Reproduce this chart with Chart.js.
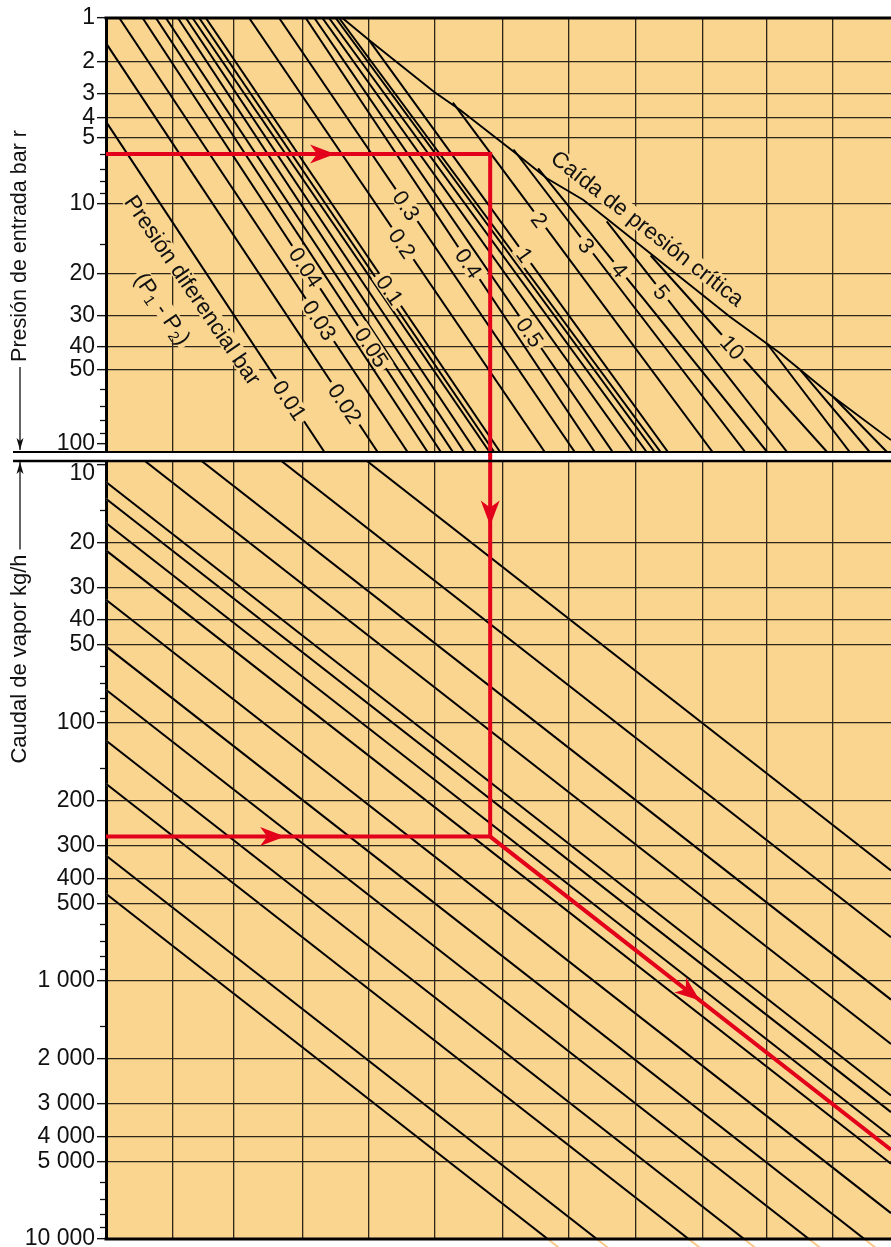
<!DOCTYPE html>
<html lang="es">
<head>
<meta charset="utf-8">
<title>Caudal de vapor</title>
<script src="https://cdn.jsdelivr.net/npm/chart.js@4.4.1/dist/chart.umd.min.js"></script>
<style>
  html, body { margin: 0; padding: 0; background: #fff; }
  .box { position: absolute; left: 0; width: 891px; }
  #top-box { top: 0; height: 456px; }
  #bot-box { top: 455px; height: 792px; }
  canvas { display: block; }
</style>
</head>
<body>
<div class="box" id="bot-box"><canvas id="bot-chart" width="891" height="792"></canvas></div>
<div class="box" id="top-box"><canvas id="top-chart" width="891" height="456"></canvas></div>
<script>
// shared x grid (arbitrary units, no labels on this axis)
const xGrid = [1, 1.92, 2.95, 3.94, 4.94, 5.95, 6.95, 7.96, 8.96, 9.92, 10.92];
const xMax = 11.79;

// top panel: inlet pressure, bar r
const presTicks = [1, 2, 3, 4, 5, 10, 20, 30, 40, 50, 100];
const presGrid = [2, 3, 4, 5, 10, 20, 30, 40, 50];
const presMinor = [6, 7, 8, 9, 15, 60, 70, 80, 90];
const presMin = 1;
const presMax = 107.6;

// differential pressure lines (start / end, x units and bar r)
const dpStartX = [0, 0, 0.20, 0.55, 0.75, 0.90, 1.08, 1.20, 1.30, 1.40, 1.50, 2.15, 2.60, 3.00, 3.13, 3.25, 3.35, 3.45, 3.50, 3.95, 5.21, 6.12, 6.49, 7.52, 8.18, 9.93, 10.42, 10.92];
const dpStartP = [4.19, 1.52, 1, 1, 1, 1, 1, 1, 1, 1, 1, 1, 1, 1, 1, 1, 1, 1, 1, 1.45, 3.36, 5.71, 6.98, 12.0, 16.8, 39.1, 49.8, 64.3];
const dpEndX = [3.28, 4.08, 4.53, 4.83, 5.03, 5.21, 5.38, 5.56, 5.76, 5.83, 5.92, 6.59, 7.04, 7.34, 7.61, 7.91, 8.12, 8.24, 8.33, 8.44, 9.11, 9.60, 9.93, 10.23, 10.83, 11.17, 11.47, 11.73];
const dpEndP = dpEndX.map(() => presMax);

// labels sitting on some of the lines
const dpLabels = ['0.01', '0.02', '0.03', '0.04', '0.05', '0.1', '0.2', '0.3', '0.4', '0.5', '1', '2', '3', '4', '5', '10'];
const dpLabelLine = [0, 1, 2, 3, 4, 10, 11, 12, 13, 14, 19, 20, 21, 22, 23, 24];
const dpLabelP = [66.3, 68.4, 31.2, 18.8, 40.3, 23.4, 14.9, 10.2, 18.1, 35, 16.7, 11.8, 15.2, 19.3, 23.9, 40.3];

// critical pressure drop curve
const critX = [3.55, 3.95, 4.93, 5.32, 6.12, 6.62, 7.17, 9.37, 10.12, 10.92, 11.79];
const critP = [1, 1.45, 2.95, 3.66, 5.84, 7.74, 9.68, 30.3, 42.7, 64.3, 96.3];

// bottom panel: steam flow kg/h
const flowTicks = [10, 20, 30, 40, 50, 100, 200, 300, 400, 500, 1000, 2000, 3000, 4000, 5000, 10000];
const flowGrid = [20, 30, 40, 50, 100, 200, 300, 400, 500, 1000, 2000, 3000, 4000, 5000];
const flowMinor = [15, 60, 70, 80, 90, 150, 600, 700, 800, 900, 1500, 6000, 7000, 8000, 9000];
const flowMin = 9.68;
const flowMax = 10000;

// valve lines: flow at left edge (x=0) and right edge (x=xMax)
const kvFlowLeft = [1.57, 2.85, 4.97, 7.38, 11.68, 13.55, 16.84, 21.49, 33.37, 50.6, 74.5, 117.1, 172.3, 326.8, 460];
const kvFlowRight = [373.5, 678, 1182, 1756, 2779, 3224, 4006, 5113, 7939, 12038, 17724, 27859, 40990, 77746, 109434];

// worked example (red path)
const exPres = 6;
const exX = 5.77;
const exFlow = 276;
const exFlowEnd = 4508;
const arrowTopX = 3.44;
const arrowDownFlow = 17.2;
const arrowFlowX = 2.69;
const arrowDiagX = 8.92;

// ---- styles ----
const panelFill = '#F9D590';
const gridColor = '#2e2619';
const red = '#E2001A';
const fontFam = '"Liberation Sans", Arial, sans-serif';
const tickFont = { family: '"Liberation Sans Narrow", "Liberation Sans", Arial, sans-serif', size: 23 };

const abs = p => p + 1;   // gauge -> absolute bar

function seg(points, color, width, clip) {
    return {
        data: points,
        showLine: true,
        borderColor: color,
        borderWidth: width,
        pointRadius: 0,
        tension: 0,
        fill: false,
        clip: clip || 0
    };
}

function fmtThousands(v) {
    return String(Math.round(v)).replace(/\B(?=(\d{3})+(?!\d))/g, ' ');
}

function xScale() {
    return {
        type: 'linear',
        min: 0,
        max: xMax,
        ticks: { display: false },
        grid: { color: gridColor, lineWidth: 1.3, drawTicks: false },
        border: { display: false },
        afterBuildTicks: s => { s.ticks = xGrid.map(v => ({ value: v })); },
        afterFit: s => { s.height = 0; s.paddingLeft = 0; s.paddingRight = 0; }
    };
}

function drawArrow(ctx, x, y, angle) {
    ctx.save();
    ctx.translate(x, y);
    ctx.rotate(angle);
    ctx.fillStyle = red;
    ctx.beginPath();
    ctx.moveTo(0, 0);
    ctx.lineTo(-25, -9.5);
    ctx.lineTo(-18, 0);
    ctx.lineTo(-25, 9.5);
    ctx.closePath();
    ctx.fill();
    ctx.restore();
}

// text made of runs: [text, size, baseline shift]
function maskedRuns(ctx, runs, x, y, angle, pad) {
    ctx.save();
    ctx.translate(x, y);
    ctx.rotate(angle);
    let w = 0;
    const widths = runs.map(r => {
        ctx.font = r[1] + 'px ' + fontFam;
        const m = ctx.measureText(r[0]).width;
        w += m;
        return m;
    });
    const size = runs[0][1];
    ctx.fillStyle = panelFill;
    ctx.fillRect(-w / 2 - pad, -size * 0.42, w + pad * 2, size * 0.84);
    ctx.fillStyle = '#111';
    ctx.textAlign = 'left';
    ctx.textBaseline = 'alphabetic';
    let cx = -w / 2;
    runs.forEach((r, i) => {
        ctx.font = r[1] + 'px ' + fontFam;
        ctx.fillText(r[0], cx, size * 0.36 + r[2]);
        cx += widths[i];
    });
    ctx.restore();
}

function maskedText(ctx, text, x, y, angle, size, pad) {
    maskedRuns(ctx, [[text, size, 0]], x, y, angle, pad);
}

function axisTitle(ctx, text, cx, cy, arrowEnd, size) {
    ctx.save();
    ctx.font = size + 'px ' + fontFam;
    const w = ctx.measureText(text).width;
    ctx.translate(cx, cy);
    ctx.rotate(-Math.PI / 2);
    ctx.fillStyle = '#111';
    ctx.textAlign = 'center';
    ctx.textBaseline = 'middle';
    ctx.fillText(text, 0, 0);
    ctx.restore();
    // line + arrow towards the panel edge
    const down = arrowEnd > cy;
    const start = down ? cy + w / 2 + 5 : cy - w / 2 - 5;
    ctx.save();
    ctx.strokeStyle = '#111';
    ctx.lineWidth = 1.3;
    ctx.beginPath();
    ctx.moveTo(cx, start);
    ctx.lineTo(cx, arrowEnd);
    ctx.stroke();
    ctx.fillStyle = '#111';
    ctx.beginPath();
    const d = down ? -1 : 1;
    ctx.moveTo(cx, arrowEnd);
    ctx.lineTo(cx - 3.5, arrowEnd + d * 12);
    ctx.lineTo(cx, arrowEnd + d * 9);
    ctx.lineTo(cx + 3.5, arrowEnd + d * 12);
    ctx.closePath();
    ctx.fill();
    ctx.restore();
}

function minorTicks(ctx, scale, values, left) {
    ctx.save();
    ctx.strokeStyle = '#111';
    ctx.lineWidth = 1.3;
    values.forEach(v => {
        const y = Math.round(scale.getPixelForValue(v)) + 0.5;
        ctx.beginPath();
        ctx.moveTo(left - 5, y);
        ctx.lineTo(left, y);
        ctx.stroke();
    });
    ctx.restore();
}

// ---------------- top panel ----------------
const topSets = [];
topSets.push(seg([
    { x: 0, y: abs(exPres) }, { x: exX, y: abs(exPres) }, { x: exX, y: abs(presMax) * 1.15 }
], red, 4, { left: 0, top: 0, right: 0, bottom: 10 }));
const topRedCount = topSets.length;
topSets.push(seg(critX.map((x, i) => ({ x, y: abs(critP[i]) })), '#000', 1.9));
dpStartX.forEach((x, i) => {
    topSets.push(seg([{ x, y: abs(dpStartP[i]) }, { x: dpEndX[i], y: abs(dpEndP[i]) }], '#000', 2));
});

const topDecor = {
    id: 'topDecor',
    beforeDraw(chart) {
        const { ctx, chartArea: a } = chart;
        ctx.save();
        ctx.fillStyle = panelFill;
        ctx.fillRect(a.left, a.top, a.right - a.left, a.bottom - a.top);
        ctx.restore();
    },
    afterDatasetDraw(chart, args) {
        if (args.index !== topRedCount) return;
        const { ctx, chartArea: a } = chart;
        const xs = chart.scales.x, ys = chart.scales.y;
        ctx.save();
        ctx.beginPath();
        ctx.rect(a.left, a.top, a.right - a.left, a.bottom - a.top);
        ctx.clip();
        dpLabels.forEach((t, k) => {
            const i = dpLabelLine[k];
            const x0 = xs.getPixelForValue(dpStartX[i]), y0 = ys.getPixelForValue(abs(dpStartP[i]));
            const x1 = xs.getPixelForValue(dpEndX[i]), y1 = ys.getPixelForValue(abs(dpEndP[i]));
            const y = ys.getPixelForValue(abs(dpLabelP[k]));
            const x = x0 + (y - y0) / (y1 - y0) * (x1 - x0);
            maskedText(ctx, t, x, y, Math.atan2(y1 - y0, x1 - x0), 22, 4);
        });
        const ang = 55.7 * Math.PI / 180;
        maskedText(ctx, 'Presión diferencial bar', xs.getPixelForValue(1.31), ys.getPixelForValue(abs(23.4)), ang, 22.5, 3);
        maskedRuns(ctx, [['(P', 22.5, 0], ['1', 15, 4], [' - P', 22.5, 0], ['2', 15, 4], [')', 22.5, 0]],
            xs.getPixelForValue(0.86), ys.getPixelForValue(abs(27.9)), ang, 3);
        maskedText(ctx, 'Caída de presión crítica', xs.getPixelForValue(8.14), ys.getPixelForValue(abs(12.8)), 38 * Math.PI / 180, 22.5, 4);
        ctx.restore();
    },
    afterDraw(chart) {
        const { ctx, chartArea: a } = chart;
        const xs = chart.scales.x, ys = chart.scales.y;
        ctx.save();
        ctx.strokeStyle = '#000';
        ctx.lineWidth = 3;
        ctx.beginPath();
        ctx.moveTo(a.left - 1.5, a.top);
        ctx.lineTo(a.right, a.top);
        ctx.stroke();
        ctx.lineWidth = 2;
        ctx.beginPath();
        ctx.moveTo(13, a.bottom);
        ctx.lineTo(a.right, a.bottom);
        ctx.stroke();
        ctx.restore();
        minorTicks(ctx, ys, presMinor.map(abs), a.left - 1);
        axisTitle(ctx, 'Presión de entrada bar r', 20, 246, a.bottom - 2, 21.5);
        drawArrow(ctx, xs.getPixelForValue(arrowTopX), ys.getPixelForValue(abs(exPres)), 0);
    }
};

new Chart(document.getElementById('top-chart'), {
    type: 'scatter',
    data: { datasets: topSets },
    options: {
        responsive: false,
        animation: false,
        events: [],
        layout: { padding: { top: 18, bottom: 4, left: 0, right: 0 } },
        plugins: { legend: { display: false }, tooltip: { enabled: false } },
        scales: {
            x: xScale(),
            y: {
                type: 'logarithmic',
                reverse: true,
                min: abs(presMin),
                max: abs(presMax),
                afterBuildTicks: s => { s.ticks = presTicks.map(v => ({ value: abs(v) })); },
                ticks: {
                    autoSkip: false,
                    padding: 2,
                    color: '#111',
                    font: tickFont,
                    callback: v => String(Math.round(v - 1))
                },
                grid: {
                    color: c => (c.tick && presGrid.includes(Math.round(c.tick.value - 1))) ? gridColor : 'rgba(0,0,0,0)',
                    lineWidth: 1.3,
                    tickColor: '#111',
                    tickLength: 9,
                    tickWidth: 1.4
                },
                border: { color: '#000', width: 3 },
                afterFit: s => { s.width = 106; s.paddingTop = 0; s.paddingBottom = 0; }
            }
        }
    },
    plugins: [topDecor]
});

// ---------------- bottom panel ----------------
const botSets = [];
botSets.push(seg([{ x: exX, y: flowMin * 0.93 }, { x: exX, y: exFlow }], red, 4, { left: 0, top: 12, right: 0, bottom: 0 }));
botSets.push(seg([{ x: 0, y: exFlow }, { x: exX, y: exFlow }, { x: xMax, y: exFlowEnd }], red, 4));
kvFlowLeft.forEach((f, i) => {
    botSets.push(seg([{ x: 0, y: f }, { x: xMax, y: kvFlowRight[i] }], '#000', 2));
});
// faint continuation of the lines just below the frame
kvFlowLeft.forEach((f, i) => {
    botSets.push(seg([{ x: 0, y: f }, { x: xMax, y: kvFlowRight[i] }], '#F7C98A', 2, { left: 0, top: 0, right: 0, bottom: 10 }));
});

const botDecor = {
    id: 'botDecor',
    beforeDraw(chart) {
        const { ctx, chartArea: a } = chart;
        ctx.save();
        ctx.fillStyle = panelFill;
        ctx.fillRect(a.left, a.top, a.right - a.left, a.bottom - a.top);
        ctx.restore();
    },
    afterDraw(chart) {
        const { ctx, chartArea: a } = chart;
        const xs = chart.scales.x, ys = chart.scales.y;
        ctx.save();
        ctx.strokeStyle = '#000';
        ctx.lineWidth = 2.5;
        ctx.beginPath();
        ctx.moveTo(13, a.top);
        ctx.lineTo(a.right, a.top);
        ctx.stroke();
        ctx.lineWidth = 3;
        ctx.beginPath();
        ctx.moveTo(a.left - 1.5, a.bottom);
        ctx.lineTo(a.right, a.bottom);
        ctx.stroke();
        // label of the first tick sits a bit lower, inside the frame
        ctx.font = '23px ' + tickFont.family;
        ctx.fillStyle = '#111';
        ctx.textAlign = 'right';
        ctx.textBaseline = 'middle';
        ctx.fillText('10', a.left - 11, ys.getPixelForValue(flowTicks[0]) + 9);
        ctx.restore();
        minorTicks(ctx, ys, flowMinor, a.left - 1);
        axisTitle(ctx, 'Caudal de vapor kg/h', 20, 204, 7, 22);
        // arrows on the red path
        const ex = xs.getPixelForValue(exX);
        drawArrow(ctx, ex, ys.getPixelForValue(arrowDownFlow), Math.PI / 2);
        drawArrow(ctx, xs.getPixelForValue(arrowFlowX), ys.getPixelForValue(exFlow), 0);
        const y0 = ys.getPixelForValue(exFlow), y1 = ys.getPixelForValue(exFlowEnd);
        const x1 = xs.getPixelForValue(xMax);
        const ax = xs.getPixelForValue(arrowDiagX);
        drawArrow(ctx, ax, y0 + (ax - ex) / (x1 - ex) * (y1 - y0), Math.atan2(y1 - y0, x1 - ex));
    }
};

new Chart(document.getElementById('bot-chart'), {
    type: 'scatter',
    data: { datasets: botSets },
    options: {
        responsive: false,
        animation: false,
        events: [],
        layout: { padding: { top: 6, bottom: 8, left: 0, right: 0 } },
        plugins: { legend: { display: false }, tooltip: { enabled: false } },
        scales: {
            x: xScale(),
            y: {
                type: 'logarithmic',
                reverse: true,
                min: flowMin,
                max: flowMax,
                afterBuildTicks: s => { s.ticks = flowTicks.map(v => ({ value: v })); },
                ticks: {
                    autoSkip: false,
                    padding: 2,
                    color: '#111',
                    font: tickFont,
                    callback: v => (v === flowTicks[0] ? '' : fmtThousands(v))
                },
                grid: {
                    color: c => (c.tick && flowGrid.includes(Math.round(c.tick.value))) ? gridColor : 'rgba(0,0,0,0)',
                    lineWidth: 1.3,
                    tickColor: '#111',
                    tickLength: 9,
                    tickWidth: 1.4
                },
                border: { color: '#000', width: 3 },
                afterFit: s => { s.width = 106; s.paddingTop = 0; s.paddingBottom = 0; }
            }
        }
    },
    plugins: [botDecor]
});
</script>
</body>
</html>
